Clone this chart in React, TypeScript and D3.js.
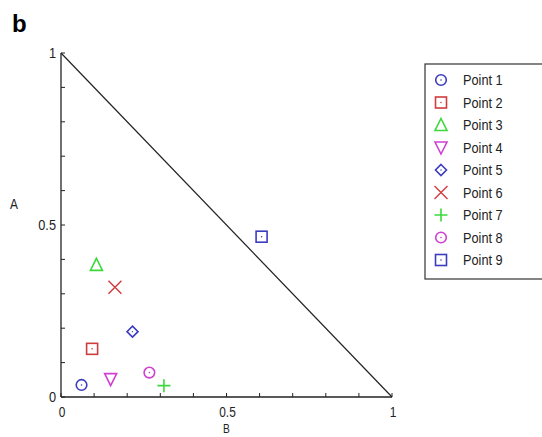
import React, { useEffect, useRef } from 'react'
import * as d3 from 'd3'

const names = ['Point 1', 'Point 2', 'Point 3', 'Point 4', 'Point 5', 'Point 6', 'Point 7', 'Point 8', 'Point 9']
const bValues = [0.062, 0.094, 0.107, 0.150, 0.216, 0.163, 0.311, 0.267, 0.606]
const aValues = [0.035, 0.140, 0.384, 0.052, 0.190, 0.319, 0.033, 0.071, 0.466]
const markers = ['circle', 'square', 'triangle', 'down', 'diamond', 'x', 'plus', 'circle', 'square']
const colors = ['#3c3cc0', '#d03c3c', '#3cd83c', '#d040d0', '#3c3cc0', '#d03c3c', '#3cd83c', '#d040d0', '#3c3cc0']
const axisTicks = [0, 0.5, 1]
const minorTicks = [0.1, 0.2, 0.3, 0.4, 0.6, 0.7, 0.8, 0.9]

const W = 542
const H = 437
const font = 'Arial, "Liberation Sans", sans-serif'
const squeeze = 0.85 // the original labels look condensed

function drawMarker(g: any, kind: string, color: string) {
    const s = 5.5
    if (kind === 'circle') {
        g.append('circle').attr('r', 5.3).attr('fill', 'none').attr('stroke', color).attr('stroke-width', 1.6)
        g.append('circle').attr('r', 0.8).attr('fill', color)
    } else if (kind === 'square') {
        g.append('rect').attr('x', -s).attr('y', -s).attr('width', 2 * s).attr('height', 2 * s)
            .attr('fill', 'none').attr('stroke', color).attr('stroke-width', 1.6)
        g.append('circle').attr('r', 0.8).attr('fill', color)
    } else if (kind === 'triangle') {
        g.append('path').attr('d', `M0,${-s - 1} L${s + 0.5},${s} L${-s - 0.5},${s} Z`)
            .attr('fill', 'none').attr('stroke', color).attr('stroke-width', 1.6)
    } else if (kind === 'down') {
        g.append('path').attr('d', `M0,${s + 1} L${s + 0.5},${-s} L${-s - 0.5},${-s} Z`)
            .attr('fill', 'none').attr('stroke', color).attr('stroke-width', 1.6)
    } else if (kind === 'diamond') {
        g.append('path').attr('d', `M0,${-s} L${s},0 L0,${s} L${-s},0 Z`)
            .attr('fill', 'none').attr('stroke', color).attr('stroke-width', 1.6)
        g.append('circle').attr('r', 0.7).attr('fill', color)
    } else if (kind === 'x') {
        g.append('path').attr('d', `M${-s - 1},${-s - 1} L${s + 1},${s + 1} M${s + 1},${-s - 1} L${-s - 1},${s + 1}`)
            .attr('stroke', color).attr('stroke-width', 1.4)
    } else if (kind === 'plus') {
        g.append('path').attr('d', `M${-s - 1},0 L${s + 1},0 M0,${-s - 1} L0,${s + 1}`)
            .attr('stroke', color).attr('stroke-width', 1.6)
    }
}

// text placed at (tx, ty) and squeezed horizontally
function label(g: any, tx: number, ty: number, str: string, anchor: string, size: number) {
    return g.append('text')
        .attr('transform', `translate(${tx},${ty}) scale(${squeeze},1)`)
        .attr('text-anchor', anchor)
        .text(str)
        .style('font-family', font).style('font-size', size + 'px').attr('fill', '#222')
}

export default function App() {
    const ref = useRef<SVGSVGElement>(null)

    useEffect(() => {
        const svg = d3.select(ref.current)
        svg.selectAll('*').remove()

        const x = d3.scaleLinear().domain([0, 1]).range([61, 392])
        const y = d3.scaleLinear().domain([0, 1]).range([397, 53])

        svg.append('text').attr('x', 12).attr('y', 32).text('b')
            .style('font-family', font).style('font-weight', 'bold').style('font-size', '24px')

        const plot = svg.append('g')

        // axes lines
        plot.append('line').attr('x1', x(0)).attr('x2', x(1)).attr('y1', y(0)).attr('y2', y(0))
            .attr('stroke', '#222').attr('stroke-width', 1.3)
        plot.append('line').attr('x1', x(0)).attr('x2', x(0)).attr('y1', y(0)).attr('y2', y(1))
            .attr('stroke', '#222').attr('stroke-width', 1.3)

        // diagonal A + B = 1
        plot.append('line').attr('x1', x(0)).attr('y1', y(1)).attr('x2', x(1)).attr('y2', y(0))
            .attr('stroke', '#222').attr('stroke-width', 1.2)

        const allTicks = axisTicks.concat(minorTicks)
        plot.selectAll('.xt').data(allTicks).enter().append('line')
            .attr('x1', d => x(d)).attr('x2', d => x(d)).attr('y1', y(0)).attr('y2', y(0) - 4)
            .attr('stroke', '#222')
        plot.selectAll('.yt').data(allTicks).enter().append('line')
            .attr('y1', d => y(d)).attr('y2', d => y(d)).attr('x1', x(0)).attr('x2', x(0) + 4)
            .attr('stroke', '#222')

        axisTicks.forEach(d => {
            label(plot, x(d) + 1, 417, String(d), 'middle', 14)
            label(plot, x(0) - 5, y(d) + 5, String(d), 'end', 15)
        })

        label(plot, x(0.5), 433, 'B', 'middle', 12)
        label(plot, 14, 209, 'A', 'middle', 14)

        // points
        names.forEach((n, i) => {
            const g = plot.append('g').attr('transform', `translate(${x(bValues[i])},${y(aValues[i])})`)
            drawMarker(g, markers[i], colors[i])
        })

        // legend
        const legend = svg.append('g')
        legend.append('rect').attr('x', 425).attr('y', 64).attr('width', 130).attr('height', 215)
            .attr('fill', 'white').attr('stroke', '#333').attr('stroke-width', 1.2)
        names.forEach((n, i) => {
            const ly = 80 + i * 22.5
            const g = legend.append('g').attr('transform', `translate(441,${ly})`)
            drawMarker(g, markers[i], colors[i])
            label(legend, 463, ly + 5, n, 'start', 15)
        })
    }, [])

    return (
        <div style={{ position: 'absolute', left: 0, top: 0 }}>
            <svg ref={ref} width={W} height={H} style={{ display: 'block', background: 'white' }} />
        </div>
    )
}
